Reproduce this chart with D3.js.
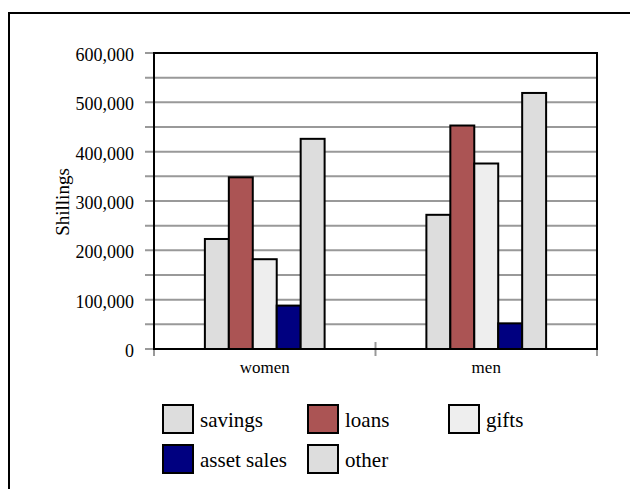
<!DOCTYPE html>
<html>
<head>
<meta charset="utf-8">
<script src="https://cdn.jsdelivr.net/npm/d3@7"></script>
<style>
  html, body { margin: 0; padding: 0; background: #fff; }
  svg { display: block; }
  text { font-family: "Liberation Serif", "Times New Roman", serif; fill: #000; }
</style>
</head>
<body>
<svg id="chart" width="630" height="489"></svg>
<script>
// Sources of funds, by sex (Shillings)
const categories = ["women", "men"];
const seriesNames = ["savings", "loans", "gifts", "asset sales", "other"];
const savings = [223000, 272000];
const loans = [348000, 453000];
const gifts = [182000, 376000];
const assetSales = [88000, 52000];
const other = [426000, 519000];
const yTicks = [0, 100000, 200000, 300000, 400000, 500000, 600000];
const seriesColors = ["#dddddd", "#ab5454", "#eeeeee", "#000080", "#dddddd"];

const serif = "'Liberation Serif', 'Times New Roman', serif";
const seriesValues = [savings, loans, gifts, assetSales, other];
const rows = categories.map((c, i) => ({
  category: c,
  values: seriesNames.map((s, j) => ({ series: s, value: seriesValues[j][i], color: seriesColors[j] }))
}));

const svg = d3.select("#chart");
const plot = { left: 154, right: 597, top: 53, bottom: 349 };

// outer frame
svg.append("rect")
  .attr("x", 9).attr("y", 13).attr("width", 700).attr("height", 600)
  .attr("fill", "none").attr("stroke", "#000").attr("stroke-width", 2);

const x0 = d3.scaleBand().domain(categories).range([plot.left, plot.right]).padding(0);
const x1 = d3.scaleBand().domain(seriesNames).range([0, x0.bandwidth()])
  .paddingInner(0).paddingOuter(2.125);
const y = d3.scaleLinear().domain([0, 600000]).range([plot.bottom, plot.top]);

// gridlines every 50,000 with small ticks crossing the axis
const minor = d3.range(50000, 600001, 50000);
svg.append("g").selectAll("line").data(minor).join("line")
  .attr("x1", plot.left - 9).attr("x2", plot.right)
  .attr("y1", d => y(d)).attr("y2", d => y(d))
  .attr("stroke", "#999").attr("stroke-width", 2);
svg.append("line")
  .attr("x1", plot.left - 9).attr("x2", plot.left + 6)
  .attr("y1", y(0)).attr("y2", y(0))
  .attr("stroke", "#999").attr("stroke-width", 2);

// category ticks on the x axis
const xTickPos = [plot.left, x0(categories[1]), plot.right];
svg.append("g").selectAll("line").data(xTickPos).join("line")
  .attr("x1", d => d).attr("x2", d => d)
  .attr("y1", plot.bottom - 7).attr("y2", plot.bottom + 7)
  .attr("stroke", "#999").attr("stroke-width", 2);

// bars
const groups = svg.append("g").selectAll("g").data(rows).join("g")
  .attr("transform", d => `translate(${x0(d.category)},0)`);
groups.selectAll("rect").data(d => d.values).join("rect")
  .attr("x", d => x1(d.series))
  .attr("y", d => y(d.value))
  .attr("width", x1.bandwidth())
  .attr("height", d => y(0) - y(d.value))
  .attr("fill", d => d.color)
  .attr("stroke", "#000").attr("stroke-width", 2);

// plot frame
svg.append("path")
  .attr("d", `M${plot.left},${plot.top}H${plot.right}V${plot.bottom}H${plot.left}Z`)
  .attr("fill", "none").attr("stroke", "#000").attr("stroke-width", 2);

// y axis labels
const yAxis = d3.axisLeft(y).tickValues(yTicks).tickSize(0).tickPadding(20)
  .tickFormat(d3.format(","));
const ya = svg.append("g").attr("transform", `translate(${plot.left},0)`).call(yAxis);
ya.select(".domain").remove();
ya.attr("font-family", null);
ya.selectAll("text")
  .style("font-family", serif)
  .style("font-size", "18px").attr("dy", "0.42em");

// x axis labels
const xAxis = d3.axisBottom(x0).tickSize(0).tickPadding(12);
const xa = svg.append("g").attr("transform", `translate(0,${plot.bottom})`).call(xAxis);
xa.select(".domain").remove();
xa.attr("font-family", null);
xa.selectAll("text")
  .style("font-family", serif)
  .style("font-size", "17px");

// axis title
svg.append("text")
  .attr("transform", `translate(69,202) rotate(-90)`)
  .attr("text-anchor", "middle")
  .style("font-family", serif)
  .style("font-size", "19px")
  .text("Shillings");

// legend
const legendCols = [163, 308, 449];
const legendRows = [405, 445];
const legendItems = seriesNames.map((s, i) => ({
  name: s, color: seriesColors[i],
  x: legendCols[i % 3], y: legendRows[Math.floor(i / 3)]
}));
const lg = svg.append("g").selectAll("g").data(legendItems).join("g")
  .attr("transform", d => `translate(${d.x},${d.y})`);
lg.append("rect")
  .attr("width", 30).attr("height", 28)
  .attr("fill", d => d.color).attr("stroke", "#000").attr("stroke-width", 2);
lg.append("text")
  .attr("x", 37).attr("y", 22)
  .style("font-family", serif)
  .style("font-size", "21px")
  .text(d => d.name);
</script>
</body>
</html>
